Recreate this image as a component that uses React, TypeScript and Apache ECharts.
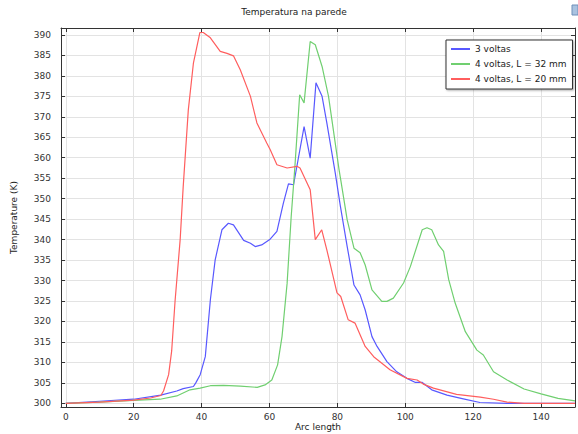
import React, { useEffect, useRef } from "react";
import * as echarts from "echarts";

const seriesNames = ["3 voltas", "4 voltas, L = 32 mm", "4 voltas, L = 20 mm"];

const blueData: [number, number][] = [
  [0, 300.0], [10, 300.5], [20, 301.0], [28, 302.0], [32.7, 303.0], [34.6, 303.6],
  [37.6, 304.1], [38.3, 305.0], [39.6, 307.0], [41.1, 311.4], [42.6, 325.3], [44.0, 335],
  [46.0, 342.4], [47.9, 344.0], [49.4, 343.6], [52.4, 339.8], [54.4, 339.1], [55.8, 338.3],
  [57.7, 338.7], [60.2, 340.1], [62.2, 342.0], [64.1, 348.9], [65.6, 353.6], [67.1, 353.4],
  [70.2, 367.6], [72.0, 359.9], [73.7, 378.3], [75.5, 375.0], [76.9, 368.5], [79.4, 356.2],
  [80.9, 348.1], [82.9, 338.3], [84.9, 328.9], [86.7, 326.5], [88.2, 322.8], [90.2, 316.3],
  [91.7, 313.9], [94.6, 310.2], [97.5, 307.7], [100.5, 306.1], [103.0, 305.1], [105.0, 305.1],
  [107.8, 303.3], [112.3, 302.0], [117.1, 301.1], [122, 300.2], [130, 300.0], [150, 300.0],
];

const greenData: [number, number][] = [
  [0, 300.0], [10, 300.3], [20, 300.7], [27.8, 301.0], [32.7, 301.8], [36.6, 303.3],
  [39.6, 303.7], [42.6, 304.3], [46.5, 304.4], [51.4, 304.2], [56.4, 303.9], [58.7, 304.5],
  [60.7, 305.7], [62.4, 309.4], [63.7, 316.3], [65.2, 329.3], [66.4, 345.6], [67.5, 357.9],
  [68.9, 375.4], [70.2, 373.4], [72.0, 388.4], [73.5, 387.6], [75.5, 382.3], [77.4, 375.0],
  [80.5, 357.1], [81.0, 354.6], [82.9, 344.8], [84.9, 337.9], [86.7, 336.8], [88.2, 333.8],
  [90.2, 327.7], [93.1, 324.9], [94.6, 324.9], [96.5, 325.7], [99.5, 329.4], [101.5, 333.4],
  [105.0, 342.4], [106.4, 342.9], [107.8, 342.4], [109.8, 338.7], [111.3, 337.1], [112.8, 330.2],
  [114.7, 324.5], [117.7, 317.5], [121.1, 313.0], [123.0, 311.8], [126.0, 307.7], [130.0, 305.7],
  [135, 303.5], [140, 302.3], [145, 301.2], [150, 300.6],
];

const redData: [number, number][] = [
  [0, 300.0], [10, 300.3], [20, 300.8], [25, 301.3], [28, 301.9], [28.8, 303.0],
  [30.3, 307.0], [31.2, 312.8], [32.2, 325], [33.7, 340], [34.6, 353], [36.1, 371.7],
  [37.6, 383.1], [39.5, 390.6], [40.5, 390.6], [42.6, 389.3], [45.5, 386], [47.5, 385.5],
  [49.4, 384.9], [51.4, 381.5], [54.4, 375], [56.3, 368.5], [59.2, 363.6], [60.2, 362],
  [62.2, 358.3], [65.2, 357.5], [68.1, 357.9], [69.0, 357.5], [72.0, 352.2], [73.5, 340],
  [75.4, 342.4], [76.9, 337.5], [79.9, 327], [81.0, 326.1], [83.2, 320.4], [85.2, 319.6],
  [88.2, 313.9], [90.7, 311.4], [95.5, 308.2], [100.5, 306.1], [103.5, 305.7], [105.3, 304.7],
  [108.3, 303.7], [115.1, 302.2], [122.1, 301.5], [126, 301], [130, 300.3], [135, 300.0],
  [150, 300.0],
];

const xTicks = [0, 20, 40, 60, 80, 100, 120, 140];
const yTicks = [300, 305, 310, 315, 320, 325, 330, 335, 340, 345, 350, 355, 360, 365, 370, 375, 380, 385, 390];

const colors = ["#5858ff", "#70cf70", "#ff5e5e"];

export default function App() {
  const ref = useRef<HTMLDivElement>(null);
  useEffect(() => {
    if (!ref.current) return;
    const chart = echarts.init(ref.current, null, { renderer: "svg" });
    const font = "DejaVu Sans";
    const axisColor = "#333";
    const tickCommon = {
      show: true,
      inside: true,
      length: 4,
      lineStyle: { color: axisColor, width: 1 },
    };
    chart.setOption({
      animation: false,
      textStyle: { fontFamily: font },
      title: {
        text: "Temperatura na parede",
        left: 289,
        textAlign: "center",
        top: 2,
        textStyle: { fontFamily: font, fontSize: 9, fontWeight: "normal", color: "#222" },
      },
      grid: { left: 61, right: 3, top: 28, bottom: 27, containLabel: false, outerBoundsMode: "none" },
      legend: {
        data: seriesNames,
        orient: "vertical",
        left: 446,
        top: 40,
        z: 20,
        icon: "rect",
        itemWidth: 19,
        itemHeight: 2,
        itemGap: 3,
        padding: [3, 6, 4, 5],
        backgroundColor: "#fff",
        borderColor: "#333",
        borderWidth: 1,
        borderRadius: 0,
        shadowColor: "rgba(0,0,0,0.35)",
        shadowBlur: 2,
        shadowOffsetX: 1,
        shadowOffsetY: 1,
        textStyle: { fontFamily: font, fontSize: 9, color: "#222", lineHeight: 12 },
      },
      xAxis: [
        {
          type: "value",
          min: -1.4,
          max: 150,
          position: "bottom",
          name: "Arc length",
          nameLocation: "middle",
          nameGap: 15,
          nameMoveOverlap: false,
          nameTextStyle: { fontFamily: font, fontSize: 9, color: "#222" },
          axisLine: { show: true, onZero: false, lineStyle: { color: axisColor, width: 1 } },
          axisTick: { ...tickCommon, customValues: xTicks },
          axisLabel: { show: true, customValues: xTicks, fontSize: 9, color: "#333", margin: 5, fontFamily: font },
          splitLine: { show: false },
        },
        {
          type: "value",
          min: -1.4,
          max: 150,
          position: "top",
          axisLine: { show: true, onZero: false, lineStyle: { color: axisColor, width: 1 } },
          axisTick: { ...tickCommon, customValues: xTicks },
          axisLabel: { show: false },
          splitLine: { show: false },
        },
      ],
      yAxis: [
        {
          type: "value",
          min: 299.1,
          max: 391.7,
          position: "left",
          name: "Temperature (K)",
          nameLocation: "middle",
          nameRotate: 90,
          nameGap: 43,
          nameMoveOverlap: false,
          nameTextStyle: { fontFamily: font, fontSize: 9, color: "#222" },
          axisLine: { show: true, onZero: false, lineStyle: { color: axisColor, width: 1 } },
          axisTick: { ...tickCommon, customValues: yTicks },
          axisLabel: { show: true, customValues: yTicks, fontSize: 9, color: "#333", margin: 10, fontFamily: font },
          splitLine: { show: false },
        },
        {
          type: "value",
          min: 299.1,
          max: 391.7,
          position: "right",
          axisLine: { show: true, onZero: false, lineStyle: { color: axisColor, width: 1 } },
          axisTick: { ...tickCommon, customValues: yTicks },
          axisLabel: { show: false },
          splitLine: { show: false },
        },
      ],
      graphic: [
        {
          type: "rect",
          z: 30,
          shape: { x: 572, y: 5, width: 6, height: 10 },
          style: { fill: "#a9c2e0", stroke: "#6f8fb8", lineWidth: 1 },
        },
      ],
      series: [
        {
          name: "_grid",
          type: "line",
          z: 0,
          data: [[0, 300]],
          showSymbol: false,
          symbol: "none",
          lineStyle: { opacity: 0 },
          silent: true,
          markLine: {
            silent: true,
            z: 0,
            symbol: ["none", "none"],
            label: { show: false },
            lineStyle: { color: "#e3e3e3", type: "solid", width: 1 },
            emphasis: { disabled: true },
            data: [
              ...xTicks.map((v) => ({ xAxis: v })),
              ...yTicks.map((v) => ({ yAxis: v })),
            ],
          },
        },
        {
          name: seriesNames[0],
          type: "line",
          data: blueData,
          symbol: "none",
          showSymbol: false,
          itemStyle: { color: colors[0] },
          lineStyle: { color: colors[0], width: 1.2 },
          z: 3,
        },
        {
          name: seriesNames[1],
          type: "line",
          data: greenData,
          symbol: "none",
          showSymbol: false,
          itemStyle: { color: colors[1] },
          lineStyle: { color: colors[1], width: 1.2 },
          z: 3,
        },
        {
          name: seriesNames[2],
          type: "line",
          data: redData,
          symbol: "none",
          showSymbol: false,
          itemStyle: { color: colors[2] },
          lineStyle: { color: colors[2], width: 1.2 },
          z: 3,
        },
      ],
    });
    return () => chart.dispose();
  }, []);
  return (
    <div
      ref={ref}
      style={{ position: "fixed", left: 0, top: 0, width: 578, height: 434, background: "#fff" }}
    />
  );
}
